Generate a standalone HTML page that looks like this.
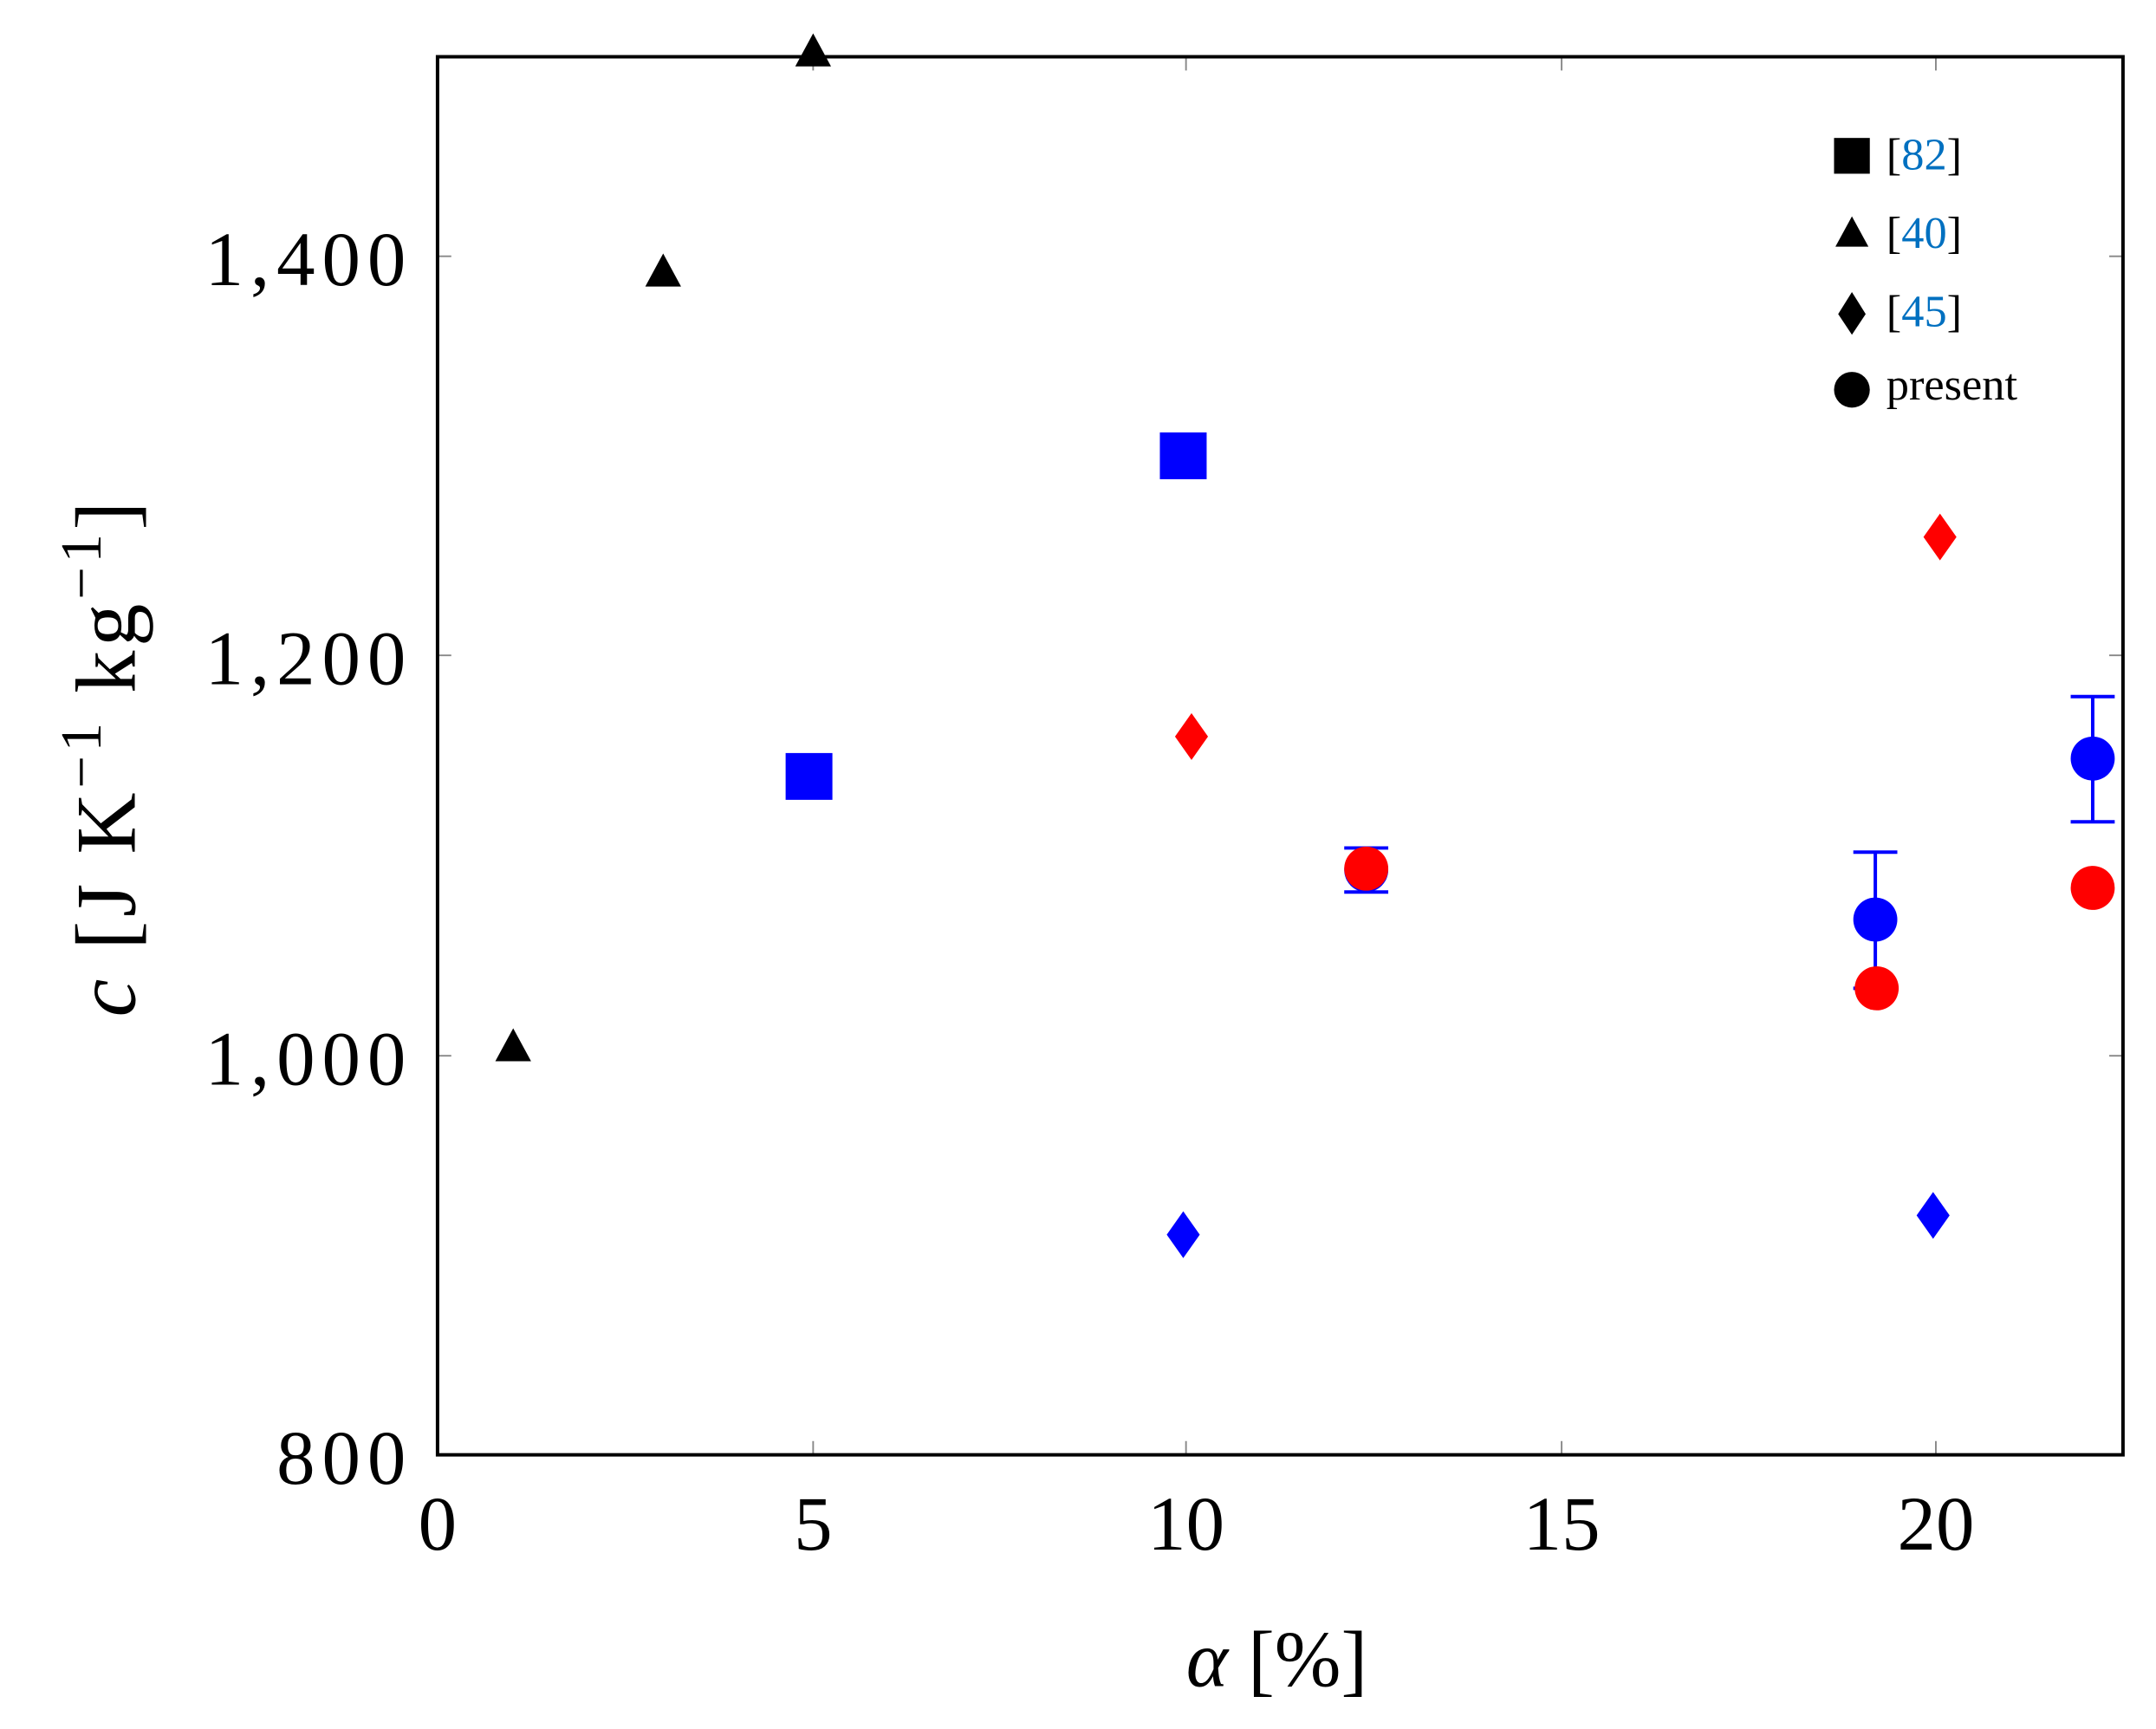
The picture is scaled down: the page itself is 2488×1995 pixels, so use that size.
<!DOCTYPE html>
<html><head><meta charset="utf-8"><style>html,body{margin:0;padding:0;background:#fff}svg{display:block}</style></head><body>
<svg xmlns="http://www.w3.org/2000/svg" width="2488" height="1995" viewBox="0 0 1567 1256" font-family="Liberation Serif, serif">
<rect width="1567" height="1256" fill="#fff"/>
<g stroke="#888" stroke-width="1.2">
<line x1="591" y1="1057" x2="591" y2="1047"/><line x1="862" y1="1057" x2="862" y2="1047"/><line x1="1135" y1="1057" x2="1135" y2="1047"/><line x1="1407" y1="1057" x2="1407" y2="1047"/>
<line x1="591" y1="41" x2="591" y2="51"/><line x1="862" y1="41" x2="862" y2="51"/><line x1="1135" y1="41" x2="1135" y2="51"/><line x1="1407" y1="41" x2="1407" y2="51"/>
<line x1="318" y1="767" x2="328" y2="767"/><line x1="318" y1="476" x2="328" y2="476"/><line x1="318" y1="186" x2="328" y2="186"/>
<line x1="1543" y1="767" x2="1533" y2="767"/><line x1="1543" y1="476" x2="1533" y2="476"/><line x1="1543" y1="186" x2="1533" y2="186"/>
</g>
<rect x="318" y="41" width="1225" height="1016" fill="none" stroke="#000" stroke-width="2.5"/>
<g font-size="56" text-anchor="end" letter-spacing="5">
<text x="300" y="1078">800</text><text x="300" y="788">1,000</text><text x="300" y="497">1,200</text><text x="300" y="207">1,400</text>
</g>
<g font-size="56" text-anchor="middle">
<text x="318" y="1126">0</text><text x="591" y="1126">5</text><text x="862" y="1126">10</text><text x="1135" y="1126">15</text><text x="1407" y="1126">20</text>
</g>
<text x="928" y="1225" font-size="58" text-anchor="middle"><tspan font-style="italic">α</tspan> [%]</text>
<text transform="translate(98,550) rotate(-90)" font-size="62" text-anchor="middle" letter-spacing="3"><tspan font-style="italic">c</tspan> [J K<tspan dy="-25" font-size="42">−1</tspan><tspan dy="25"> kg</tspan><tspan dy="-25" font-size="42">−1</tspan><tspan dy="25">]</tspan></text>
<g fill="#000">
<polygon points="373,747 386,771 360,771"/><polygon points="482,184 495,208 469,208"/><polygon points="591,24 604,48 578,48"/>
</g>
<g fill="#00f"><rect x="571" y="547" width="34" height="34"/><rect x="843" y="314" width="34" height="34"/></g>
<g fill="#f00"><polygon points="866,518 878,535 866,552 854,535"/><polygon points="1410,373 1422,390 1410,407 1398,390"/></g>
<g fill="#00f"><polygon points="860,880 872,897 860,914 848,897"/><polygon points="1405,866 1417,883 1405,900 1393,883"/></g>
<g stroke="#00f" stroke-width="2.5">
<line x1="993" y1="616" x2="993" y2="648"/><line x1="977" y1="616" x2="1009" y2="616"/><line x1="977" y1="648" x2="1009" y2="648"/>
<line x1="1363" y1="619" x2="1363" y2="718"/><line x1="1347" y1="619" x2="1379" y2="619"/><line x1="1347" y1="718" x2="1379" y2="718"/>
<line x1="1521" y1="506" x2="1521" y2="597"/><line x1="1505" y1="506" x2="1537" y2="506"/><line x1="1505" y1="597" x2="1537" y2="597"/>
</g>
<g fill="#00f"><circle cx="993" cy="632" r="16"/><circle cx="1363" cy="668" r="16"/><circle cx="1521" cy="551" r="16"/></g>
<g fill="#f00"><circle cx="993" cy="631" r="16"/><circle cx="1364" cy="718" r="16"/><circle cx="1521" cy="645" r="16"/></g>
<rect x="1333" y="100" width="26" height="26" fill="#000"/>
<polygon points="1346,157 1358,179 1334,179" fill="#000"/>
<polygon points="1346,212 1356,228 1346,243 1336,228" fill="#000"/>
<circle cx="1346" cy="283" r="13" fill="#000"/>
<g font-size="33">
<text x="1371" y="123">[<tspan fill="#0070c0">82</tspan>]</text>
<text x="1371" y="180">[<tspan fill="#0070c0">40</tspan>]</text>
<text x="1371" y="237">[<tspan fill="#0070c0">45</tspan>]</text>
<text x="1371" y="290">present</text>
</g>
</svg>
</body></html>
